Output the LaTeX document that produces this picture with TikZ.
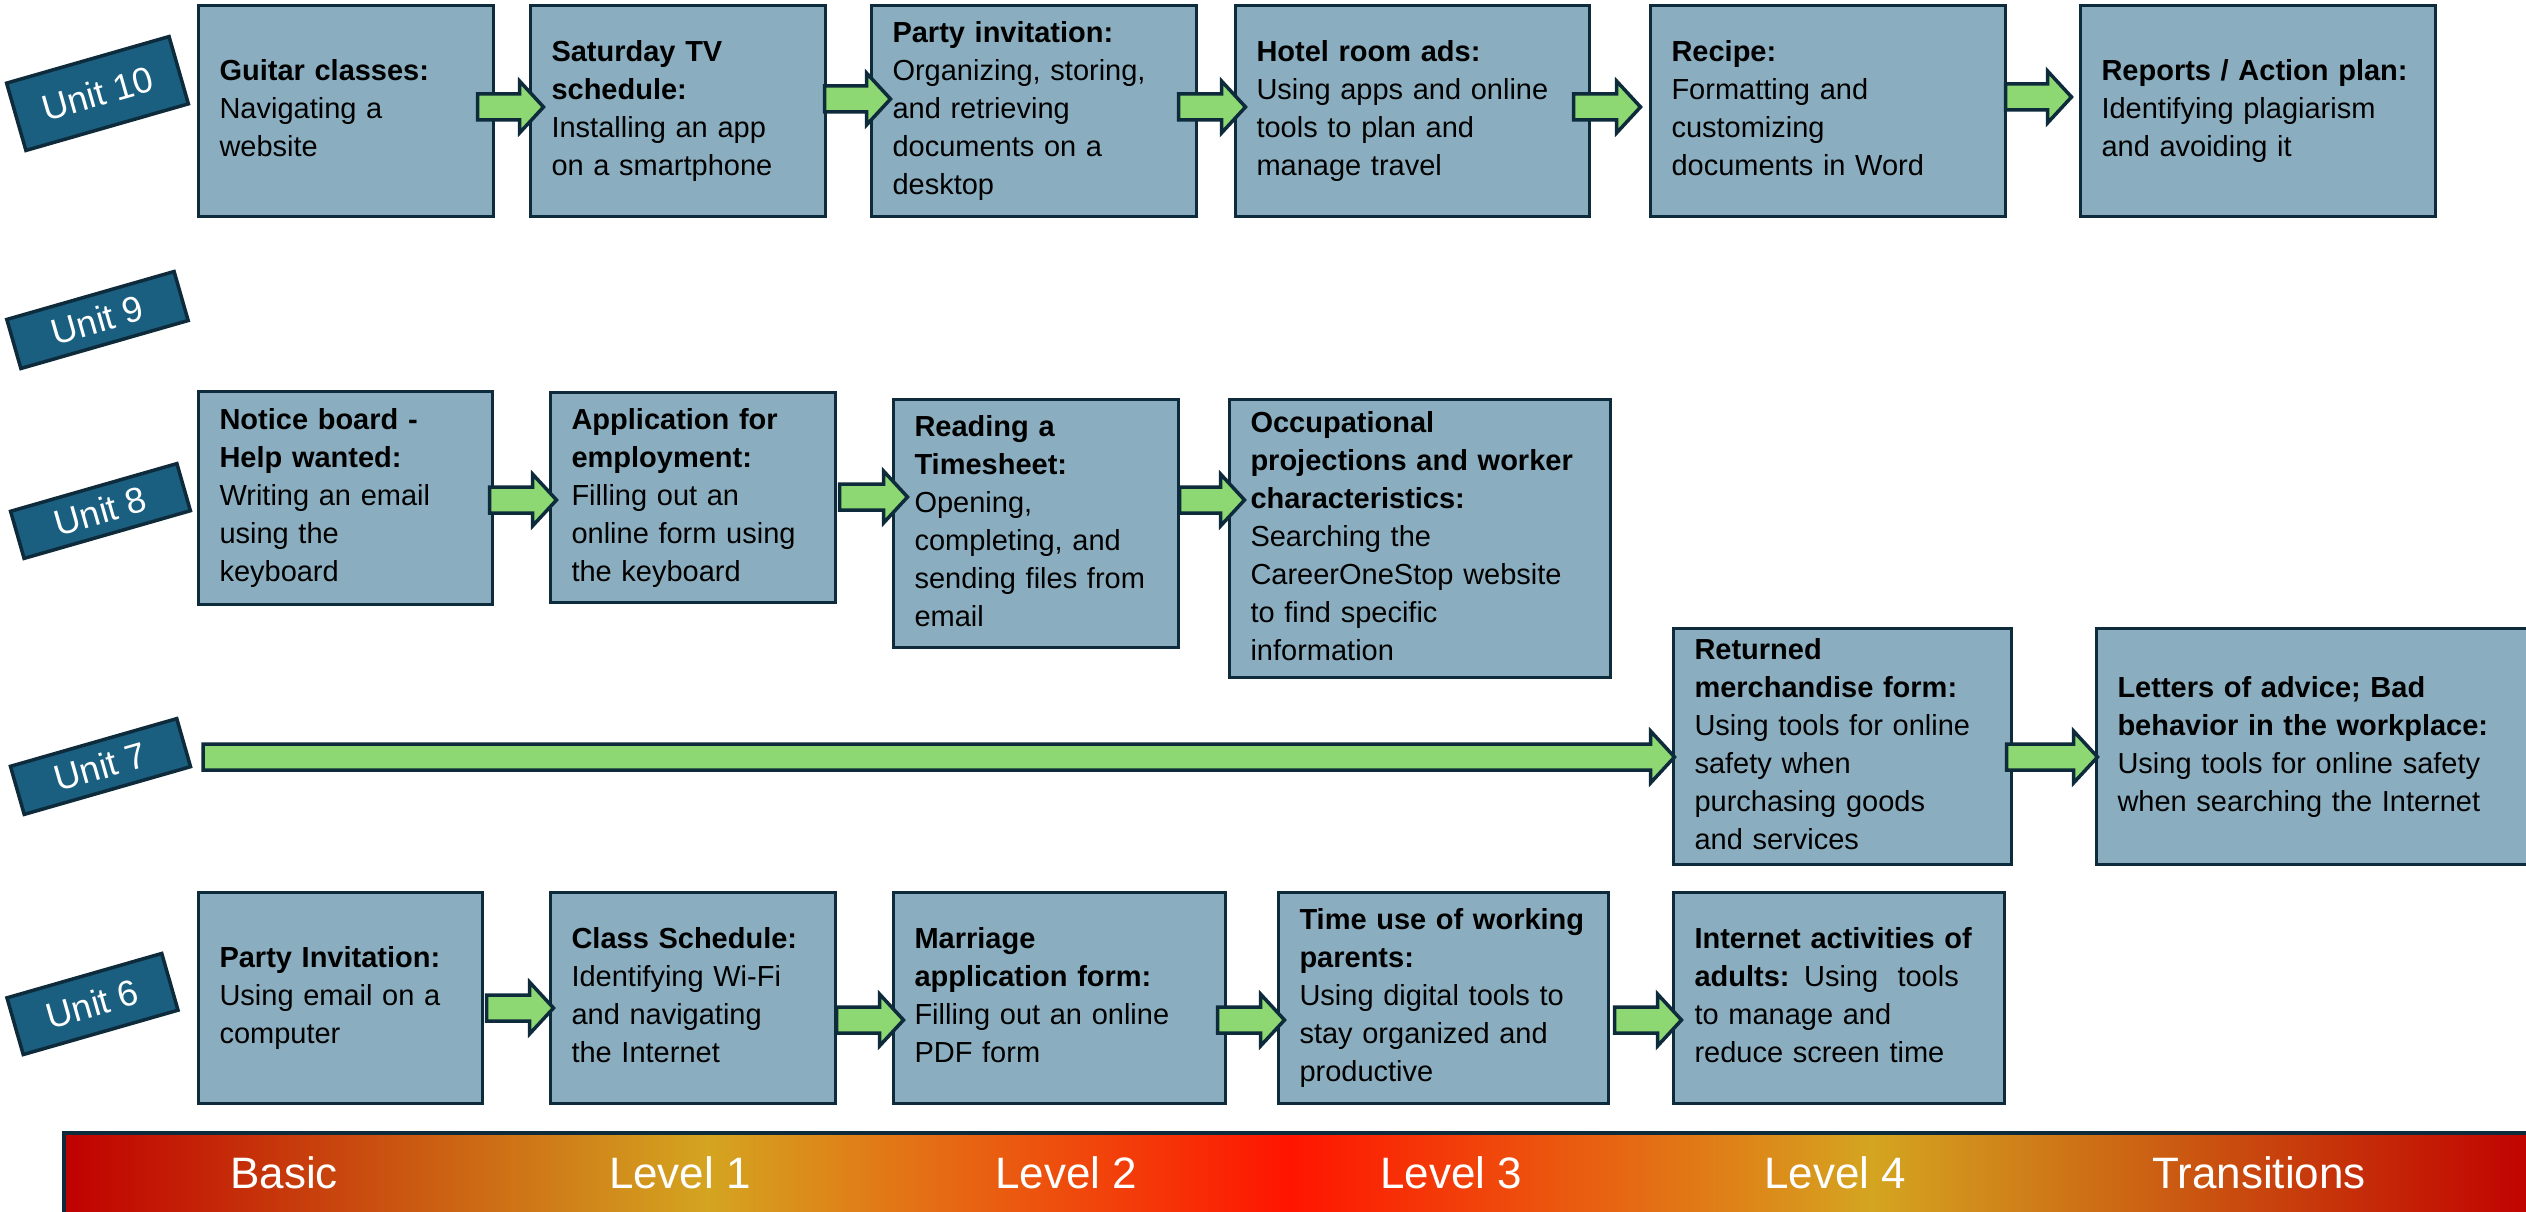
\documentclass[tikz,border=0pt]{standalone}
\usepackage{fontspec}
\setmainfont{Liberation Sans}
\usetikzlibrary{calc}
\definecolor{boxfill}{HTML}{8AAEBF}
\definecolor{edge}{HTML}{0E2B3B}
\definecolor{unitfill}{HTML}{1A5F80}
\definecolor{arrgreen}{HTML}{8ED873}
\definecolor{dred}{HTML}{C00000}
\definecolor{goldc}{HTML}{D4A520}
\definecolor{bred}{HTML}{FF1400}
% TikZ maps the 25bp--75bp band of a shading onto the path
\pgfdeclarehorizontalshading{levels}{100bp}{color(0bp)=(dred); color(25bp)=(dred); color(38bp)=(goldc); color(49.75bp)=(bred); color(61.5bp)=(goldc); color(75bp)=(dred); color(100bp)=(dred)}
\newcommand\tx[1]{\noindent\begin{tabular}{@{}l@{}}#1\end{tabular}}
% block arrow: #1 start anchor, #2 x offset, #3 target anchor, #4 x offset, #5 y centre (px)
\newcommand\barr[5]{\draw[blockarrow] let \p1=#1, \p2=#3 in
  ({\x1+(#2pt)},{-#5pt+13pt}) -- ({\x2+(#4pt)-24pt},{-#5pt+13pt}) --
  ({\x2+(#4pt)-24pt},{-#5pt+26pt}) -- ({\x2+(#4pt)},{-#5pt}) --
  ({\x2+(#4pt)-24pt},{-#5pt-26pt}) -- ({\x2+(#4pt)-24pt},{-#5pt-13pt}) --
  ({\x1+(#2pt)},{-#5pt-13pt}) -- cycle;}
\begin{document}
\begin{tikzpicture}[x=1pt,y=-1pt,
  box/.style={draw=edge, fill=boxfill, line width=3.5pt, rectangle, inner xsep=21pt, inner ysep=0pt,
    outer sep=0pt, align=left, font=\fontsize{29}{38}\selectfont, text=black},
  unit/.style={draw=edge, fill=unitfill, line width=3.5pt, text=white, font=\fontsize{36}{42}\selectfont,
    inner sep=0pt, outer sep=0pt, rotate=16},
  blockarrow/.style={draw=edge, fill=arrgreen, line width=3.5pt, line join=miter},
  lvl/.style={text=white, font=\fontsize{44}{50}\selectfont, anchor=base, inner sep=0pt},
  levelbar/.style={draw=edge, line width=3.5pt, shading=levels, inner sep=0pt, outer sep=0pt}]
\useasboundingbox (0,0) rectangle (2526,1212);
\fill[white] (0,0) rectangle (2526,1212);

% Unit labels
\node[unit, minimum width=169pt, minimum height=70pt] (u10) at (97.5,93.5) {Unit 10};
\node[unit, minimum width=174pt, minimum height=51pt] (u9) at (97.5,320) {Unit 9};
\node[unit, minimum width=173pt, minimum height=49pt] (u8) at (100.5,511) {Unit 8};
\node[unit, minimum width=173pt, minimum height=50pt] (u7) at (100.5,766.5) {Unit 7};
\node[unit, minimum width=161pt, minimum height=59pt] (u6) at (92.5,1004) {Unit 6};

% Unit 10
\node[box, minimum width=295pt, text width=253pt, minimum height=211pt] (t1) at (346,111)
  {\tx{\textbf{Guitar classes:}\\ Navigating a\\ website}};
\node[box, minimum width=295pt, text width=253pt, minimum height=211pt] (t2) at (678,111)
  {\tx{\textbf{Saturday TV}\\ \textbf{schedule:}\\ Installing an app\\ on a smartphone}};
\node[box, minimum width=325pt, text width=283pt, minimum height=211pt] (t3) at (1034,111)
  {\tx{\textbf{Party invitation:}\\ Organizing, storing,\\ and retrieving\\ documents on a\\ desktop}};
\node[box, minimum width=354pt, text width=312pt, minimum height=211pt] (t4) at (1412.5,111)
  {\tx{\textbf{Hotel room ads:}\\ Using apps and online\\ tools to plan and\\ manage travel}};
\node[box, minimum width=355pt, text width=313pt, minimum height=211pt] (t5) at (1828,111)
  {\tx{\textbf{Recipe:}\\ Formatting and\\ customizing\\ documents in Word}};
\node[box, minimum width=355pt, text width=313pt, minimum height=211pt] (t6) at (2258,111)
  {\tx{\textbf{Reports / Action plan:}\\ Identifying plagiarism\\ and avoiding it}};

% Unit 8
\node[box, minimum width=294pt, text width=252pt, minimum height=213pt] (e1) at (345.5,498)
  {\tx{\textbf{Notice board -}\\ \textbf{Help wanted:}\\ Writing an email\\ using the\\ keyboard}};
\node[box, minimum width=285pt, text width=243pt, minimum height=210pt] (e2) at (693,497.5)
  {\tx{\textbf{Application for}\\ \textbf{employment:}\\ Filling out an\\ online form using\\ the keyboard}};
\node[box, minimum width=285pt, text width=243pt, minimum height=248pt] (e3) at (1036,523.5)
  {\tx{\textbf{Reading a}\\ \textbf{Timesheet:}\\ Opening,\\ completing, and\\ sending files from\\ email}};
\node[box, minimum width=381pt, text width=339pt, minimum height=278pt] (e4) at (1420,538.5)
  {\tx{\textbf{Occupational}\\ \textbf{projections and worker}\\ \textbf{characteristics:}\\ Searching the\\ CareerOneStop website\\ to find specific\\ information}};

% Unit 7
\node[box, minimum width=338pt, text width=296pt, minimum height=236pt] (s1) at (1842.5,746.5)
  {\tx{\textbf{Returned}\\ \textbf{merchandise form:}\\ Using tools for online\\ safety when\\ purchasing goods\\ and services}};
\node[box, minimum width=462pt, text width=420pt, minimum height=236pt] (s2) at (2327.5,746.5)
  {\tx{\textbf{Letters of advice; Bad}\\ \textbf{behavior in the workplace:}\\ Using tools for online safety\\ when searching the Internet}};

% Unit 6
\node[box, minimum width=284pt, text width=242pt, minimum height=211pt] (f1) at (340.5,998)
  {\tx{\textbf{Party Invitation:}\\ Using email on a\\ computer}};
\node[box, minimum width=285pt, text width=243pt, minimum height=211pt] (f2) at (693,998)
  {\tx{\textbf{Class Schedule:}\\ Identifying Wi-Fi\\ and navigating\\ the Internet}};
\node[box, minimum width=332pt, text width=290pt, minimum height=211pt] (f3) at (1059.5,998)
  {\tx{\textbf{Marriage}\\ \textbf{application form:}\\ Filling out an online\\ PDF form}};
\node[box, minimum width=330pt, text width=288pt, minimum height=211pt] (f4) at (1443.5,998)
  {\tx{\textbf{Time use of working}\\ \textbf{parents:}\\ Using digital tools to\\ stay organized and\\ productive}};
\node[box, minimum width=331pt, text width=289pt, minimum height=211pt] (f5) at (1839,998)
  {\tx{\textbf{Internet activities of}\\ \textbf{adults:} Using\ \ tools\\ to manage and\\ reduce screen time}};

% Arrows
\barr{(t1.east)}{-16}{(t2.west)}{13}{107}
\barr{(t2.east)}{-1}{(t3.west)}{19}{99}
\barr{(t3.east)}{-18}{(t4.west)}{10}{107}
\barr{(t4.east)}{-16}{(t5.west)}{-10}{107}
\barr{(t5.east)}{0}{(t6.west)}{-9}{97}

\barr{(e1.east)}{-3}{(e2.west)}{6}{500}
\barr{(e2.east)}{4}{(e3.west)}{14}{497}
\barr{(e3.east)}{1}{(e4.west)}{15}{500}

\coordinate (u7s) at (203,757);
\barr{(u7s)}{0}{(s1.west)}{1}{757}
\barr{(s1.east)}{-5}{(s2.west)}{1}{757}

\barr{(f1.east)}{4}{(f2.west)}{3}{1008}
\barr{(f2.east)}{1}{(f3.west)}{10}{1020}
\barr{(f3.east)}{-8}{(f4.west)}{6}{1020}
\barr{(f4.east)}{6}{(f5.west)}{8}{1020}

% Level bar
\node[levelbar, minimum width=2476pt, minimum height=107pt] (bar) at (1302,1186.5) {};
\node[lvl] (l0) at (284,1188) {Basic};
\node[lvl] (l1) at (680,1188) {Level 1};
\node[lvl] (l2) at (1066,1188) {Level 2};
\node[lvl] (l3) at (1451,1188) {Level 3};
\node[lvl] (l4) at (1835,1188) {Level 4};
\node[lvl] (l5) at (2259,1188) {Transitions};
\end{tikzpicture}
\end{document}
